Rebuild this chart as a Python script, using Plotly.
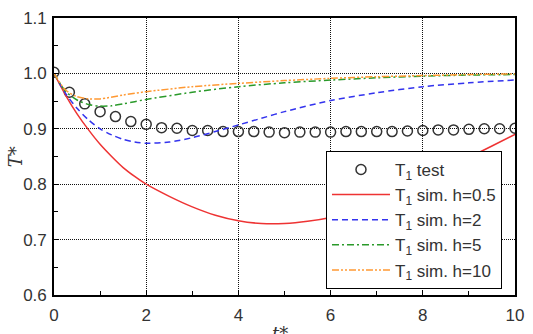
import plotly.graph_objects as go

# test data (t = k/3)
t_test = [k / 3 for k in range(31)]
T_test = [1.002, 0.966, 0.945, 0.931, 0.922, 0.913, 0.908, 0.902, 0.901, 0.897,
          0.897, 0.895, 0.895, 0.895, 0.894, 0.893, 0.894, 0.894, 0.894, 0.895,
          0.895, 0.895, 0.895, 0.896, 0.897, 0.898, 0.898, 0.899, 0.900, 0.900, 0.901]

t_h05 = [0, 0.25, 0.5, 0.75, 1, 1.25, 1.5, 1.75, 2, 2.5, 3, 3.5, 4, 4.5, 5, 5.5, 6,
         6.5, 7, 7.5, 8, 8.5, 9, 9.5, 10]
T_h05 = [1.0, 0.961, 0.927, 0.898, 0.872, 0.850, 0.830, 0.814, 0.800, 0.778, 0.759,
         0.744, 0.734, 0.729, 0.729, 0.733, 0.740, 0.751, 0.766, 0.784, 0.805, 0.826,
         0.848, 0.869, 0.890]

t_h2 = [0, 0.25, 0.5, 0.75, 1, 1.25, 1.5, 1.75, 2, 2.5, 3, 3.5, 4, 4.5, 5, 6, 7, 8, 9, 10]
T_h2 = [1.0, 0.964, 0.937, 0.916, 0.900, 0.889, 0.881, 0.876, 0.874, 0.876, 0.884,
        0.895, 0.907, 0.919, 0.931, 0.951, 0.965, 0.976, 0.983, 0.988]

t_h5 = [0, 0.25, 0.5, 0.75, 1, 1.25, 1.5, 1.75, 2, 3, 4, 5, 6, 7, 8, 9, 10]
T_h5 = [1.0, 0.968, 0.952, 0.944, 0.941, 0.9415, 0.945, 0.949, 0.953, 0.966, 0.976,
        0.983, 0.988, 0.992, 0.995, 0.997, 0.998]

t_h10 = [0, 0.25, 0.5, 0.75, 1, 1.5, 2, 3, 4, 5, 6, 7, 8, 9, 10]
T_h10 = [1.0, 0.970, 0.958, 0.954, 0.954, 0.961, 0.967, 0.976, 0.982, 0.987, 0.991,
         0.994, 0.996, 0.998, 0.999]

x_ticks = [0, 2, 4, 6, 8, 10]
y_ticks = [0.6, 0.7, 0.8, 0.9, 1.0, 1.1]
y_ticktext = ["0.6", "0.7", "0.8", "0.9", "1.0", "1.1"]

FONT = "Liberation Sans, Arial, sans-serif"

fig = go.Figure()
fig.add_trace(go.Scatter(x=t_test, y=T_test, mode="markers", name="T<sub>1</sub> test",
                         marker=dict(symbol="circle-open", size=10, color="#333333",
                                     line=dict(width=1.5, color="#333333"))))
fig.add_trace(go.Scatter(x=t_h05, y=T_h05, mode="lines", name="T<sub>1</sub> sim. h=0.5",
                         line=dict(color="#ee3333", width=1.5, shape="spline", smoothing=0.8)))
fig.add_trace(go.Scatter(x=t_h2, y=T_h2, mode="lines", name="T<sub>1</sub> sim. h=2",
                         line=dict(color="#3333ee", width=1.5, dash="6px,4px", shape="spline", smoothing=0.8)))
fig.add_trace(go.Scatter(x=t_h5, y=T_h5, mode="lines", name="T<sub>1</sub> sim. h=5",
                         line=dict(color="#2a9a2a", width=1.5, dash="7px,3px,2px,3px", shape="spline", smoothing=0.8)))
fig.add_trace(go.Scatter(x=t_h10, y=T_h10, mode="lines", name="T<sub>1</sub> sim. h=10",
                         line=dict(color="#ff9933", width=1.5, dash="7px,2px,2px,2px,2px,2px", shape="spline", smoothing=0.8)))

axis_common = dict(showline=True, linecolor="black", linewidth=1.6, mirror=True,
                   ticks="inside", ticklen=5, tickwidth=1.2, tickcolor="black",
                   showgrid=True, gridcolor="#111111", gridwidth=1, griddash="1px,1px",
                   zeroline=False,
                   tickfont=dict(family=FONT, size=17, color="#333333"))

fig.update_xaxes(range=[0, 10], tickvals=x_ticks, ticklabelstandoff=4,
                 minor=dict(tickvals=[1, 3, 5, 7, 9], ticks="inside", ticklen=4,
                            tickcolor="black", showgrid=False),
                 **axis_common)
fig.update_yaxes(range=[0.6, 1.1], tickvals=y_ticks, ticktext=y_ticktext, ticklabelstandoff=2,
                 minor=dict(tickvals=[0.65, 0.75, 0.85, 0.95, 1.05], ticks="inside", ticklen=4,
                            tickcolor="black", showgrid=False),
                 **axis_common)

fig.update_layout(
    width=533, height=334,
    margin=dict(l=54, r=10, t=9, b=37),
    plot_bgcolor="white", paper_bgcolor="white",
    showlegend=True,
    legend=dict(x=0.59, y=0.52, xanchor="left", yanchor="top",
                bgcolor="white", bordercolor="black", borderwidth=1,
                font=dict(family=FONT, size=17, color="#333333"),
                itemwidth=58, tracegroupgap=0),
    annotations=[
        dict(text="<i>T</i>*", xref="paper", yref="paper", x=-0.083, y=0.5,
             xanchor="center", yanchor="middle", textangle=-90, showarrow=False,
             font=dict(family="DejaVu Serif, serif", size=18, color="#333333")),
        dict(text="<i>t</i>*", xref="paper", yref="paper", x=0.49, y=-0.095,
             xanchor="center", yanchor="top", showarrow=False,
             font=dict(family="DejaVu Serif, serif", size=18, color="#333333")),
    ],
)

fig.write_html("out.html")
